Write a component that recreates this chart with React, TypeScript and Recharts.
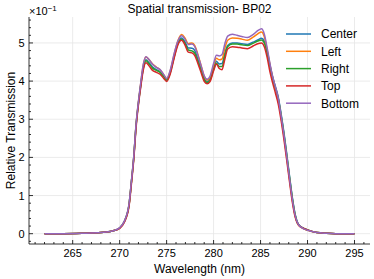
import React from 'react';
import { LineChart, Line, XAxis, YAxis, CartesianGrid } from 'recharts';

// wavelength samples (nm)
const wavelength = [
  262, 264, 266, 268, 269, 269.5, 270, 270.5, 271, 271.25,
  271.5, 271.75, 272, 272.25, 272.5, 272.8, 273.1, 273.5, 273.9, 274.3,
  274.7, 275, 275.4, 275.8, 276.2, 276.6, 276.95, 277.3, 277.7, 278,
  278.3, 278.7, 279, 279.3, 279.6, 280, 280.3, 280.6, 280.9, 281.2,
  281.5, 282, 282.5, 283, 283.6, 284.2, 284.7, 285.1, 285.4, 285.7,
  286, 286.3, 286.6, 286.9, 287.2, 287.5, 287.8, 288.1, 288.4, 288.7,
  289, 289.5, 290, 291, 292, 293, 295,
];

// relative transmission, in units of 1e-1
const center = [
  0, 0, 0.01, 0.03, 0.06, 0.09, 0.15, 0.32, 0.76, 1.35,
  1.99, 2.84, 3.42, 3.9, 4.33, 4.56, 4.49, 4.37, 4.3, 4.25,
  4.13, 4.03, 4.25, 4.65, 5.0, 5.13, 5.03, 4.87, 4.86, 4.8,
  4.6, 4.3, 4.07, 3.99, 4.04, 4.34, 4.52, 4.45, 4.46, 4.73,
  4.93, 5.0, 5.0, 4.98, 4.96, 5.02, 5.08, 5.12, 5.04, 4.78,
  4.42, 4.1, 3.84, 3.56, 3.12, 2.63, 2.07, 1.48, 0.92, 0.49,
  0.26, 0.15, 0.1, 0.03, 0.01, 0, 0,
];

const left = [
  0, 0, 0.01, 0.03, 0.06, 0.09, 0.15, 0.32, 0.76, 1.36,
  2.0, 2.86, 3.45, 3.95, 4.4, 4.63, 4.57, 4.45, 4.37, 4.3,
  4.16, 4.06, 4.28, 4.7, 5.06, 5.22, 5.13, 4.98, 5.0, 4.93,
  4.72, 4.38, 4.12, 4.03, 4.08, 4.4, 4.6, 4.56, 4.58, 4.86,
  5.07, 5.13, 5.12, 5.1, 5.07, 5.15, 5.24, 5.29, 5.16, 4.82,
  4.43, 4.08, 3.8, 3.5, 3.04, 2.54, 1.98, 1.4, 0.86, 0.45,
  0.24, 0.14, 0.09, 0.03, 0.01, 0, 0,
];

const right = [
  0, 0, 0.01, 0.03, 0.06, 0.09, 0.15, 0.32, 0.76, 1.35,
  1.99, 2.84, 3.42, 3.9, 4.31, 4.53, 4.46, 4.34, 4.28, 4.23,
  4.11, 4.02, 4.23, 4.63, 4.98, 5.1, 4.99, 4.82, 4.79, 4.73,
  4.54, 4.26, 4.04, 3.96, 4.01, 4.3, 4.47, 4.38, 4.38, 4.67,
  4.9, 4.97, 4.97, 4.95, 4.93, 4.99, 5.05, 5.08, 5.0, 4.74,
  4.38, 4.06, 3.8, 3.52, 3.08, 2.59, 2.03, 1.45, 0.9, 0.47,
  0.25, 0.15, 0.1, 0.03, 0.01, 0, 0,
];

const top = [
  0, 0, 0.01, 0.03, 0.06, 0.09, 0.14, 0.3, 0.72, 1.3,
  1.94, 2.78, 3.38, 3.85, 4.27, 4.48, 4.41, 4.28, 4.23, 4.18,
  4.07, 3.99, 4.2, 4.6, 4.95, 5.07, 4.95, 4.76, 4.74, 4.67,
  4.48, 4.2, 3.99, 3.93, 3.98, 4.27, 4.45, 4.33, 4.3, 4.58,
  4.84, 4.9, 4.89, 4.87, 4.85, 4.92, 4.98, 5.0, 4.9, 4.62,
  4.24, 3.94, 3.67, 3.38, 2.95, 2.45, 1.9, 1.33, 0.8, 0.42,
  0.24, 0.15, 0.1, 0.03, 0.01, 0, 0,
];

const bottom = [
  0, 0, 0.01, 0.03, 0.06, 0.09, 0.16, 0.33, 0.78, 1.38,
  2.02, 2.88, 3.47, 3.97, 4.42, 4.64, 4.57, 4.44, 4.36, 4.3,
  4.17, 4.07, 4.3, 4.72, 5.05, 5.19, 5.1, 4.96, 4.97, 4.9,
  4.7, 4.38, 4.14, 4.05, 4.12, 4.46, 4.68, 4.66, 4.7, 4.98,
  5.18, 5.23, 5.2, 5.17, 5.14, 5.22, 5.32, 5.37, 5.23, 4.87,
  4.46, 4.1, 3.83, 3.53, 3.07, 2.57, 2.0, 1.42, 0.87, 0.46,
  0.25, 0.14, 0.09, 0.03, 0.01, 0, 0,
];

const seriesList = [
  { name: 'Center', values: center, color: '#1f77b4' },
  { name: 'Left', values: left, color: '#ff7f0e' },
  { name: 'Right', values: right, color: '#2ca02c' },
  { name: 'Top', values: top, color: '#d62728' },
  { name: 'Bottom', values: bottom, color: '#9467bd' },
];

const xMajor = [265, 270, 275, 280, 285, 290, 295];
const yMajor = [0, 1, 2, 3, 4, 5];
const xMinor = Array.from({ length: 36 }, (_, i) => 261 + i);
const yMinor = Array.from({ length: 30 }, (_, i) => Math.round((i - 1) * 2) / 10);

const data = wavelength.map((w, i) => {
  const row: Record<string, number> = { w };
  seriesList.forEach((s) => {
    row[s.name] = s.values[i];
  });
  return row;
});

const FONT = '"Liberation Sans", Arial, Helvetica, sans-serif';
const INK = '#000';
const isMajorX = (v: number) => v % 5 === 0;
const isMajorY = (v: number) => Math.abs(v - Math.round(v)) < 1e-6;

function BottomTick(props: any) {
  const { x, y, payload } = props;
  const major = isMajorX(payload.value);
  return (
    <g>
      <line x1={x} x2={x} y1={y} y2={y - (major ? 4 : 2)} stroke={INK} strokeWidth={0.8} />
      {major && (
        <text x={x} y={y + 13} textAnchor="middle" fontSize={11} fontFamily={FONT} fill={INK}>
          {payload.value}
        </text>
      )}
    </g>
  );
}

function TopTick(props: any) {
  const { x, y, payload } = props;
  const major = isMajorX(payload.value);
  return <line x1={x} x2={x} y1={y} y2={y + (major ? 4 : 2)} stroke={INK} strokeWidth={0.8} />;
}

function LeftTick(props: any) {
  const { x, y, payload } = props;
  const major = isMajorY(payload.value);
  return (
    <g>
      <line x1={x} x2={x + (major ? 4 : 2)} y1={y} y2={y} stroke={INK} strokeWidth={0.8} />
      {major && (
        <text x={x - 4.5} y={y + 4} textAnchor="end" fontSize={11} fontFamily={FONT} fill={INK}>
          {Math.round(payload.value)}
        </text>
      )}
    </g>
  );
}

function RightTick(props: any) {
  const { x, y, payload } = props;
  const major = isMajorY(payload.value);
  return <line x1={x} x2={x - (major ? 4 : 2)} y1={y} y2={y} stroke={INK} strokeWidth={0.8} />;
}

const axisLine = { stroke: INK, strokeWidth: 0.8 };
const X_DOMAIN: [number, number] = [260.35, 296.65];
const Y_DOMAIN: [number, number] = [-0.27, 5.68];

function App() {
  return (
    <div style={{ position: 'fixed', left: 0, top: 0, width: 374, height: 279, background: '#fff' }}>
      <LineChart width={374} height={279} data={data} margin={{ top: 17, right: 4, left: 0, bottom: 0 }}>
        <CartesianGrid verticalValues={xMajor} horizontalValues={yMajor} stroke="#e6e6e6" strokeWidth={0.8} />
        <XAxis
          dataKey="w"
          type="number"
          domain={X_DOMAIN}
          allowDataOverflow
          ticks={xMinor}
          interval={0}
          height={35}
          tickSize={0}
          tickMargin={0}
          tickLine={false}
          axisLine={axisLine}
          tick={(p: any) => <BottomTick {...p} />}
        />
        <XAxis
          xAxisId="top"
          orientation="top"
          dataKey="w"
          type="number"
          domain={X_DOMAIN}
          allowDataOverflow
          ticks={xMinor}
          interval={0}
          height={0}
          tickSize={0}
          tickMargin={0}
          tickLine={false}
          axisLine={axisLine}
          tick={(p: any) => <TopTick {...p} />}
        />
        <YAxis
          type="number"
          domain={Y_DOMAIN}
          allowDataOverflow
          ticks={yMinor}
          interval={0}
          width={29}
          tickSize={0}
          tickMargin={0}
          tickLine={false}
          axisLine={axisLine}
          tick={(p: any) => <LeftTick {...p} />}
        />
        <YAxis
          yAxisId="right"
          orientation="right"
          type="number"
          domain={Y_DOMAIN}
          allowDataOverflow
          ticks={yMinor}
          interval={0}
          width={0}
          tickSize={0}
          tickMargin={0}
          tickLine={false}
          axisLine={axisLine}
          tick={(p: any) => <RightTick {...p} />}
        />
        {seriesList.map((s) => (
          <Line
            key={s.name}
            type="monotone"
            dataKey={s.name}
            stroke={s.color}
            strokeWidth={1.5}
            dot={false}
            isAnimationActive={false}
          />
        ))}
        {/* keeps the mirrored top/right axes attached to a series */}
        <Line
          xAxisId="top"
          yAxisId="right"
          dataKey="Bottom"
          stroke="none"
          dot={false}
          legendType="none"
          isAnimationActive={false}
        />
      </LineChart>
      <svg
        width={374}
        height={279}
        style={{ position: 'absolute', left: 0, top: 0, pointerEvents: 'none' }}
        fontFamily={FONT}
      >
        <text x={199.5} y={12.5} textAnchor="middle" fontSize={12} fill={INK}>
          Spatial transmission- BP02
        </text>
        <text x={29} y={15} fontSize={11} fill={INK}>
          ×10
          <tspan dy={-4.5} fontSize={8}>−1</tspan>
        </text>
        <text x={199.5} y={272.5} textAnchor="middle" fontSize={12} fill={INK}>
          Wavelength (nm)
        </text>
        <text x={15} y={130.5} textAnchor="middle" fontSize={12} fill={INK} transform="rotate(-90 15 130.5)">
          Relative Transmission
        </text>
        {seriesList.map((s, i) => {
          const cy = 34 + i * 17.3;
          return (
            <g key={s.name}>
              <line x1={286} x2={311} y1={cy} y2={cy} stroke={s.color} strokeWidth={1.5} />
              <text x={321} y={cy + 4.3} fontSize={12} fill={INK}>
                {s.name}
              </text>
            </g>
          );
        })}
      </svg>
    </div>
  );
}

export default App;
